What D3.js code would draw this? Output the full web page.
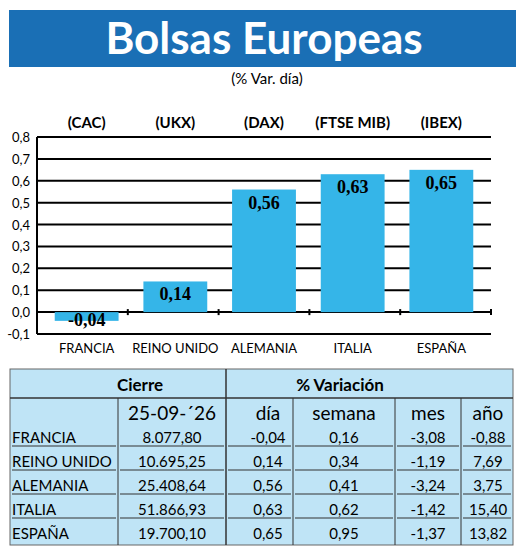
<!DOCTYPE html>
<html><head><meta charset="utf-8">
<script src="https://cdn.jsdelivr.net/npm/d3@7"></script>
<style>body{margin:0;background:#fff}svg{display:block}</style>
</head><body>
<script>
const countries=["FRANCIA","REINO UNIDO","ALEMANIA","ITALIA","ESPAÑA"];
const indices=["(CAC)","(UKX)","(DAX)","(FTSE MIB)","(IBEX)"];
const dayVar=[-0.04,0.14,0.56,0.63,0.65];
const yTicks=[-0.1,0,0.1,0.2,0.3,0.4,0.5,0.6,0.7,0.8];
const closes=["8.077,80","10.695,25","25.408,64","51.866,93","19.700,10"];
const weekVar=["0,16","0,34","0,41","0,62","0,95"];
const monthVar=["-3,08","-1,19","-3,24","-1,42","-1,37"];
const yearVar=["-0,88","7,69","3,75","15,40","13,82"];
const fmt=v=>d3.format(".2f")(v).replace(".",",").replace("\u2212","-");

const svg=d3.select("body").append("svg").attr("width",520).attr("height",547);
const F="Lato, 'Open Sans', sans-serif";
svg.append("rect").attr("x",9).attr("y",10).attr("width",507).attr("height",57).attr("fill","#1a6fb5");
svg.append("text").attr("x",264).attr("y",54).attr("text-anchor","middle").attr("fill","#fff")
 .attr("font-family",F).attr("font-weight","bold").attr("font-size",44).text("Bolsas Europeas");
svg.append("text").attr("x",267).attr("y",84).attr("text-anchor","middle").attr("font-family",F).attr("font-size",15).text("(% Var. día)");

const x=d3.scaleBand().domain(countries).range([37,491]).paddingInner(0.28).paddingOuter(0.2);
const y=d3.scaleLinear().domain([-0.1,0.8]).range([334,137]);
const g=svg.append("g");
yTicks.forEach(t=>{
 g.append("line").attr("x1",37).attr("x2",491).attr("y1",y(t)).attr("y2",y(t)).attr("stroke","#000").attr("stroke-width",2);
 g.append("text").attr("x",30).attr("y",y(t)+5).attr("text-anchor","end").attr("font-family",F).attr("font-size",13)
  .text(d3.format(".1f")(t).replace(".",",").replace("\u2212","-"));
});
g.append("line").attr("x1",37).attr("x2",37).attr("y1",137).attr("y2",334).attr("stroke","#000").attr("stroke-width",2);
countries.forEach((c,i)=>{
 if(i>0){const bx=37+(454/5)*i;
  g.append("line").attr("x1",bx).attr("x2",bx).attr("y1",y(0)-3).attr("y2",y(0)+3).attr("stroke","#000").attr("stroke-width",2);}
});
g.append("line").attr("x1",491).attr("x2",491).attr("y1",y(0)-3).attr("y2",y(0)+3).attr("stroke","#000").attr("stroke-width",2);
g.selectAll(".bar").data(dayVar).enter().append("rect")
 .attr("x",(d,i)=>x(countries[i])).attr("width",x.bandwidth())
 .attr("y",d=>y(Math.max(0,d))).attr("height",d=>Math.abs(y(d)-y(0))).attr("fill","#35b5e8");
g.selectAll(".vl").data(dayVar).enter().append("text")
 .attr("x",(d,i)=>x(countries[i])+x.bandwidth()/2).attr("y",d=>d<0?y(0)+14:y(d)+19)
 .attr("text-anchor","middle").attr("font-family","'Liberation Serif', serif").attr("font-weight","bold").attr("font-size",18)
 .text(d=>fmt(d));
countries.forEach((c,i)=>{
 const cx=x(c)+x.bandwidth()/2;
 g.append("text").attr("x",cx).attr("y",353).attr("text-anchor","middle").attr("font-family",F).attr("font-size",13).text(c);
 g.append("text").attr("x",cx).attr("y",128).attr("text-anchor","middle").attr("font-family",F).attr("font-weight","bold").attr("font-size",15).text(indices[i]);
});

const t=svg.append("g");
const tx0=10,tx1=513,ty0=369,ty1=545;
t.append("rect").attr("x",tx0).attr("y",ty0).attr("width",tx1-tx0).attr("height",ty1-ty0).attr("fill","#bfe4f6").attr("stroke","#666");
t.append("line").attr("x1",tx0).attr("x2",tx1).attr("y1",398).attr("y2",398).attr("stroke","#333").attr("stroke-width",1.5);
t.append("line").attr("x1",226).attr("x2",226).attr("y1",ty0).attr("y2",ty1).attr("stroke","#333").attr("stroke-width",1.5);
[118,293,395,461].forEach(v=>t.append("line").attr("x1",v).attr("x2",v).attr("y1",398).attr("y2",ty1).attr("stroke","#333"));
t.append("text").attr("x",140).attr("y",391).attr("text-anchor","middle").attr("font-family",F).attr("font-weight","bold").attr("font-size",17).text("Cierre");
t.append("text").attr("x",340).attr("y",391).attr("text-anchor","middle").attr("font-family",F).attr("font-weight","bold").attr("font-size",17).text("% Variación");
const hdr=[["25-09-´26",172],["día",268],["semana",344],["mes",428],["año",488]];
hdr.forEach(h=>t.append("text").attr("x",h[1]).attr("y",420).attr("text-anchor","middle").attr("font-family",F).attr("font-size",19).text(h[0]));
const cols=[{a:closes,x:172},{a:dayVar.map(fmt),x:268},{a:weekVar,x:344},{a:monthVar,x:428},{a:yearVar,x:488}];
const segs=[[tx0,118],[118,226],[226,293],[293,395],[395,461],[461,tx1]];
countries.forEach((c,i)=>{
 const ry=443+i*24;
 t.append("text").attr("x",12).attr("y",ry).attr("font-family",F).attr("font-size",15).text(c);
 cols.forEach(cl=>t.append("text").attr("x",cl.x).attr("y",ry).attr("text-anchor","middle").attr("font-family",F).attr("font-size",15).text(cl.a[i]));
 if(i<4) segs.forEach(s=>t.append("line").attr("x1",s[0]+2).attr("x2",s[1]-2).attr("y1",ry+3).attr("y2",ry+3).attr("stroke","#333"));
});
</script>
</body></html>
